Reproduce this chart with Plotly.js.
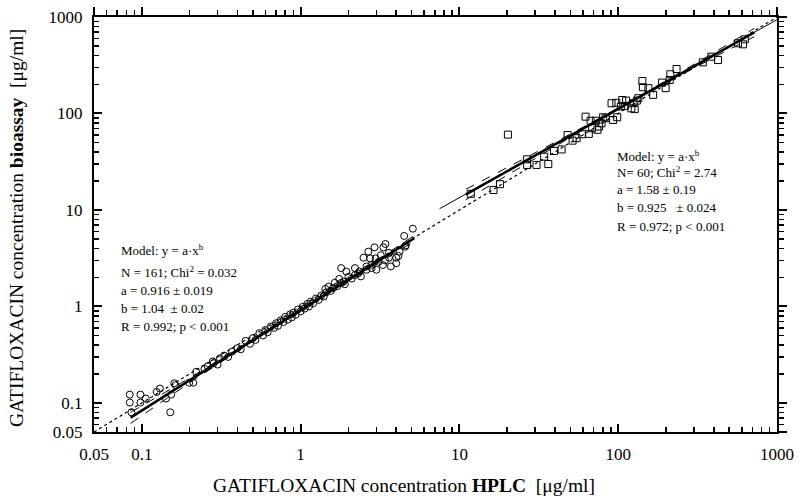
<!DOCTYPE html>
<html>
<head>
<meta charset="utf-8">
<script src="https://cdn.plot.ly/plotly-3.0.1.min.js"></script>
<style>html,body{margin:0;padding:0;background:#fff}#chart{width:800px;height:501px}</style>
</head>
<body>
<div id="chart"></div>
<script>
// low range, circles (HPLC vs bioassay)
const circX = [0.084,0.084,0.086,0.098,0.098,0.106,0.124,0.130,0.142,0.151,0.153,0.160,0.163,0.199,0.211,0.22,0.248,0.283,
  0.26,0.28,0.30,0.31,0.33,0.35,0.37,0.40,0.42,0.45,0.48,0.50,0.52,0.55,0.58,0.60,0.62,0.65,0.68,0.70,0.72,0.75,0.78,0.80,
  0.83,0.86,0.88,0.90,0.93,0.96,1.00,1.03,1.06,1.10,1.13,1.16,1.20,1.25,1.30,1.35,1.40,1.45,
  1.43,1.50,1.55,1.60,1.64,1.70,1.75,1.80,1.80,1.86,1.90,1.94,2.0,2.1,2.2,2.2,2.3,2.35,2.4,2.49,2.6,2.6,2.67,2.74,2.8,2.8,
  2.92,2.97,3.0,3.1,3.2,3.3,3.32,3.4,3.42,3.6,3.6,3.7,4.0,4.0,4.13,4.2,4.49,4.55,4.6,5.09];
const circY = [0.122,0.101,0.080,0.122,0.101,0.111,0.130,0.141,0.111,0.080,0.122,0.160,0.153,0.162,0.162,0.21,0.226,0.258,
  0.24,0.27,0.25,0.29,0.31,0.30,0.34,0.37,0.36,0.44,0.41,0.47,0.45,0.53,0.50,0.57,0.54,0.62,0.60,0.67,0.63,0.72,0.69,0.78,
  0.73,0.83,0.77,0.86,0.82,0.93,0.89,0.99,0.95,1.06,1.00,1.12,1.08,1.21,1.17,1.30,1.27,1.40,
  1.52,1.60,1.45,1.55,1.76,1.62,1.93,2.5,1.75,1.80,1.70,2.3,2.03,1.95,2.5,2.12,2.2,2.3,2.05,3.2,2.4,2.6,3.7,3.15,2.5,2.7,
  4.1,3.15,2.4,2.9,3.4,2.69,4.1,3.0,4.44,3.2,3.6,2.6,3.2,2.8,3.34,3.7,5.38,4.17,4.3,6.4];

// high range, squares
const sqX = [11.8,16.4,18.0,20.2,26.7,26.7,30.6,36.3,34.2,39.4,44.0,48.0,51.6,54.7,59.3,65.3,62.3,67.0,72.3,68.5,75.8,74,
  78.5,80.4,83.3,92.9,98.6,90.8,97.3,106,110,112,121,104,125,131,127,134,142,143,155,166,189,199,213,233,211,341,386,425,568,611,627];
const sqY = [14.7,16.1,18.5,60.4,33.5,29.3,29.3,29.9,35.7,40.9,42.4,59.8,52.3,55.5,60.9,61.5,92.7,84.2,84.2,70.3,73.2,67.7,
  79.1,91.4,89.2,85.7,91.4,127.6,129,138,120,136,113,118,128,136,111,144,217,187,183,156,209,183,255,289,222,339,388,358,534,521,587];

// fit lines and confidence bands
const lowFitX = [0.085, 5.2], lowFitY = [0.0705, 5.09];
const lowBandX = [0.085, 0.2, 0.5, 1, 2, 5.2];
const lowBandHi = [0.080, 0.182, 0.459, 0.934, 1.94, 5.44];
const lowBandLo = [0.0613, 0.1615, 0.433, 0.898, 1.83, 4.73];
const hiFitThinX = [7.5, 1000], hiFitThinY = [10.3, 940];
const hiFitX = [11, 720], hiFitY = [14.5, 694];
const hiBandX = [11, 20, 50, 100, 200, 500, 720];
const hiBandHi = [16.4, 27.5, 61.3, 114.1, 218.8, 530.5, 763];
const hiBandLo = [12.8, 22.9, 56.5, 109.7, 206.0, 461.1, 624.6];
const idX = [0.05, 1000], idY = [0.05, 1000];

const tickVals = [0.05, 0.1, 1, 10, 100, 1000];
const tickText = ['0.05', '0.1', '1', '10', '100', '1000'];

const leftText = ['Model: y = a·x<sup>b</sup>', 'N = 161; Chi<sup>2</sup> = 0.032', 'a = 0.916 ± 0.019', 'b = 1.04  ± 0.02', 'R = 0.992; p < 0.001'];
const rightText = ['Model: y = a·x<sup>b</sup>', 'N= 60; Chi<sup>2</sup> = 2.74', 'a = 1.58 ± 0.19', 'b = 0.925   ± 0.024', 'R = 0.972; p < 0.001'];

const FONT = 'Liberation Serif, Times New Roman, serif';
const minorVals = [];
[0.01, 0.1, 1, 10, 100].forEach(d => { for (let k = 2; k <= 9; k++) { const v = k * d; if (v > 0.051 && v < 999) minorVals.push(v); } });
const R = [Math.log10(0.05), 3];

const line = (x, y, w, dash) => ({x, y, type:'scatter', mode:'lines', line:{color:'#000', width:w, dash}, hoverinfo:'skip'});
const traces = [
  line(idX, idY, 1.2, 'dot'),
  line(lowBandX, lowBandHi, 1, 'dash'), line(lowBandX, lowBandLo, 1, 'dash'),
  line(hiBandX, hiBandHi, 1, 'dash'), line(hiBandX, hiBandLo, 1, 'dash'),
  line(hiFitThinX, hiFitThinY, 1, 'solid'),
  line(lowFitX, lowFitY, 2.5, 'solid'), line(hiFitX, hiFitY, 2.5, 'solid'),
  {x:circX, y:circY, type:'scatter', mode:'markers', marker:{symbol:'circle-open', size:7, color:'#000', line:{width:1}}},
  {x:sqX, y:sqY, type:'scatter', mode:'markers', marker:{symbol:'square-open', size:7, color:'#000', line:{width:1}}},
  {x:[], y:[], xaxis:'x2', yaxis:'y2', type:'scatter'}
];
traces.forEach(t => { if (t.line) { t.line.shape = 'spline'; } });

function ax(extra) {
  return Object.assign({type:'log', range:R, showline:true, linecolor:'#000', linewidth:2, showgrid:false, zeroline:false,
    tickmode:'array', tickvals:tickVals, ticktext:tickText, ticklen:8, tickwidth:2, tickcolor:'#000',
    tickfont:{family:FONT, size:17, color:'#000'},
    minor:{tickmode:'array', tickvals:minorVals, ticklen:5, tickwidth:1.5, tickcolor:'#000'}}, extra);
}

const px2x = p => (p - 94) / 683, py2y = p => (432 - p) / 415;
const ann = [];
const leftRows = [250, 271.5, 290, 308.5, 326.5], rightRows = [156, 171.5, 189.5, 207.5, 226];
leftText.forEach((t, i) => ann.push({text:t, x:px2x(119), y:py2y(leftRows[i])}));
rightText.forEach((t, i) => ann.push({text:t, x:px2x(615), y:py2y(rightRows[i])}));
ann.forEach(a => Object.assign(a, {xref:'paper', yref:'paper', xanchor:'left', yanchor:'middle', showarrow:false, font:{family:FONT, size:13, color:'#000'}}));
ann.push({text:'GATIFLOXACIN concentration <b>HPLC</b>  [μg/ml]', xref:'paper', yref:'paper', x:px2x(404), y:py2y(485),
  xanchor:'center', yanchor:'middle', showarrow:false, font:{family:FONT, size:19.5, color:'#000'}});
ann.push({text:'GATIFLOXACIN concentration <b>bioassay</b>  [μg/ml]', xref:'paper', yref:'paper', x:px2x(17), y:py2y(228),
  xanchor:'center', yanchor:'middle', textangle:-90, showarrow:false, font:{family:FONT, size:19.5, color:'#000'}});

const layout = {
  width:800, height:501, showlegend:false, paper_bgcolor:'#fff', plot_bgcolor:'#fff',
  margin:{l:94, r:23, t:17, b:69},
  xaxis:ax({ticks:'inside', ticklabelstandoff:6, minor:{tickmode:'array', tickvals:minorVals, ticks:'inside', ticklen:5, tickwidth:1.5, tickcolor:'#000'}}),
  yaxis:ax({ticks:'inside', ticklabelstandoff:6, minor:{tickmode:'array', tickvals:minorVals, ticks:'inside', ticklen:5, tickwidth:1.5, tickcolor:'#000'}}),
  xaxis2:ax({overlaying:'x', side:'top', anchor:'y2', ticks:'outside', showticklabels:false, minor:{tickmode:'array', tickvals:minorVals, ticks:'outside', ticklen:5, tickwidth:1.5, tickcolor:'#000'}}),
  yaxis2:ax({overlaying:'y', side:'right', anchor:'x2', ticks:'outside', showticklabels:false, minor:{tickmode:'array', tickvals:minorVals, ticks:'outside', ticklen:5, tickwidth:1.5, tickcolor:'#000'}}),
  annotations:ann
};

Plotly.newPlot('chart', traces, layout, {staticPlot:true});
</script>
</body>
</html>
